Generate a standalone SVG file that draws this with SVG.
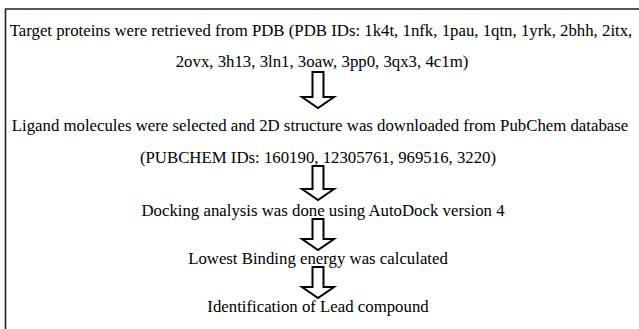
<svg xmlns="http://www.w3.org/2000/svg" width="639" height="329" viewBox="0 0 639 329">
<style>
text{font-family:"Liberation Serif","Times New Roman",serif;font-size:16.8px;fill:#000;text-anchor:middle}
.arrow{fill:#fff;stroke:#000;stroke-width:2;stroke-linejoin:miter}
.frame{fill:none;stroke:#222;stroke-width:1.6}
</style>
<rect width="639" height="329" fill="#fff"/>
<path class="frame" d="M5.5,329 V9 H639"/>
<g id="n1"><text x="321" y="36">Target proteins were retrieved from PDB (PDB IDs: 1k4t, 1nfk, 1pau, 1qtn, 1yrk, 2bhh, 2itx,</text><text x="322" y="67">2ovx, 3h13, 3ln1, 3oaw, 3pp0, 3qx3, 4c1m)</text></g>
<g id="n2"><text x="320" y="131">Ligand molecules were selected and 2D structure was downloaded from PubChem database</text><text x="318" y="163">(PUBCHEM IDs: 160190, 12305761, 969516, 3220)</text></g>
<g id="n3"><text x="323" y="216">Docking analysis was done using AutoDock version 4</text></g>
<g id="n4"><text x="318" y="264">Lowest Binding energy was calculated</text></g>
<g id="n5"><text x="318" y="312">Identification of Lead compound</text></g>
<g id="connectors">
<path class="arrow" d="M312.5,72 H323.5 V97 H334 L318,108 L302,97 H312.5 Z"/>
<path class="arrow" d="M312.5,166 H323.5 V189 H334 L318,200 L302,189 H312.5 Z"/>
<path class="arrow" d="M312.5,219 H323.5 V239 H334 L318,250 L302,239 H312.5 Z"/>
<path class="arrow" d="M312.5,267 H323.5 V287 H334 L318,298 L302,287 H312.5 Z"/>
</g>
</svg>
